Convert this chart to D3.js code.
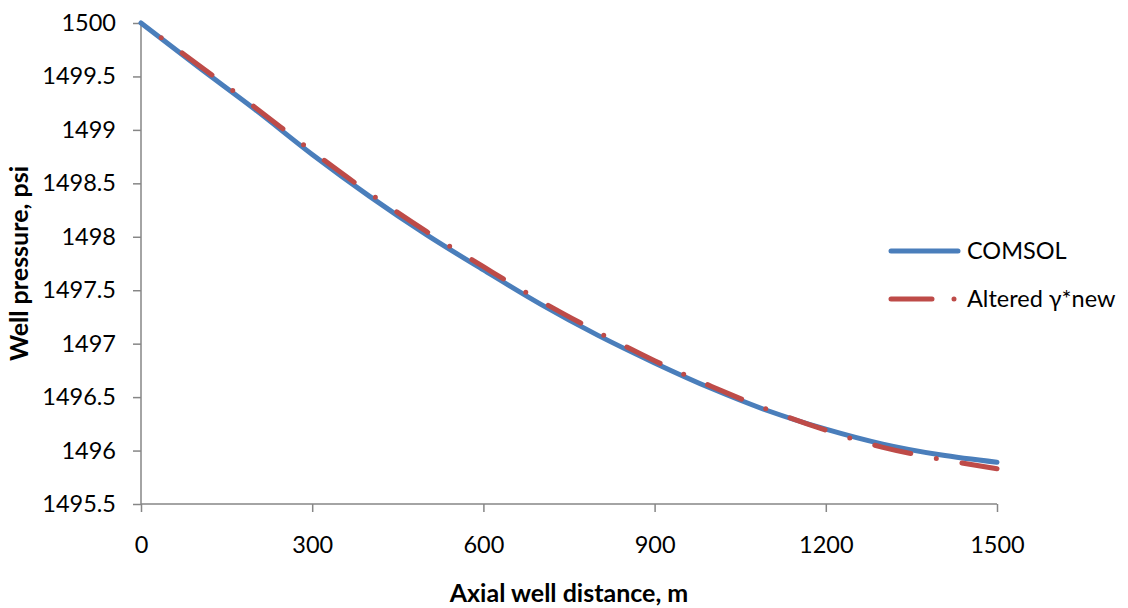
<!DOCTYPE html>
<html>
<head>
<meta charset="utf-8">
<script src="https://cdn.jsdelivr.net/npm/d3@7"></script>
<style>
  html, body { margin: 0; padding: 0; background: #fff; }
  svg { display: block; font-family: Lato, "Open Sans", sans-serif; }
</style>
</head>
<body>
<svg id="chart" width="1128" height="608"></svg>
<script>
// ---- data ----
const distances = [0, 100, 200, 300, 400, 500, 600, 700, 800, 900, 1000, 1100, 1200, 1300, 1400, 1500];
const comsol    = [1500.00, 1499.59, 1499.19, 1498.77, 1498.38, 1498.02, 1497.69, 1497.37, 1497.08, 1496.82, 1496.58, 1496.37, 1496.20, 1496.06, 1495.96, 1495.89];
const altered   = [1500.00, 1499.61, 1499.21, 1498.80, 1498.41, 1498.05, 1497.72, 1497.40, 1497.11, 1496.84, 1496.60, 1496.38, 1496.19, 1496.03, 1495.92, 1495.83];
const xTicks = [0, 300, 600, 900, 1200, 1500];
const yTicks = [1495.5, 1496, 1496.5, 1497, 1497.5, 1498, 1498.5, 1499, 1499.5, 1500];
const seriesNames = ["COMSOL", "Altered \u03b3*new"];

// ---- layout ----
const svg = d3.select("#chart");
const pL = 141, pR = 997, pT = 23, pB = 504;
const x = d3.scaleLinear().domain([0, 1500]).range([pL, pR]);
const y = d3.scaleLinear().domain([1495.5, 1500]).range([pB, pT]);
const axisColor = "#868686";
const blue = "#4A7EBB", red = "#BE4B48";
const fontSize = 23.5;
const titleSize = 25;

// axes
const yAxis = svg.append("g").attr("transform", `translate(${pL},0)`)
  .call(d3.axisLeft(y).tickValues(yTicks).tickSize(8).tickPadding(17)
        .tickFormat(d => String(d)));
const xAxis = svg.append("g").attr("transform", `translate(0,${pB})`)
  .call(d3.axisBottom(x).tickValues(xTicks).tickSize(8).tickPadding(24)
        .tickFormat(d => String(d)));
[yAxis, xAxis].forEach(g => {
  g.select(".domain").attr("stroke", axisColor).attr("stroke-width", 1.5);
  g.selectAll(".tick line").attr("stroke", axisColor).attr("stroke-width", 1.5);
  g.selectAll(".tick text").attr("fill", "#000").style("font-size", fontSize + "px")
    .style("font-family", "Lato, 'Open Sans', sans-serif");
});
yAxis.select(".domain").attr("d", `M0,${pT}V${pB}`);
xAxis.select(".domain").attr("d", `M${pL},0H${pR}`);

// lines
const rows = distances.map((d, i) => ({ d, c: comsol[i], a: altered[i] }));
const lineC = d3.line().x(r => x(r.d)).y(r => y(r.c)).curve(d3.curveMonotoneX);
const lineA = d3.line().x(r => x(r.d)).y(r => y(r.a)).curve(d3.curveMonotoneX);

svg.append("path").datum(rows).attr("d", lineC)
  .attr("fill", "none").attr("stroke", blue).attr("stroke-width", 5)
  .attr("stroke-linecap", "round").attr("stroke-linejoin", "round");
svg.append("path").datum(rows).attr("d", lineA)
  .attr("fill", "none").attr("stroke", red).attr("stroke-width", 5)
  .attr("stroke-linecap", "round").attr("stroke-linejoin", "round")
  .attr("stroke-dasharray", "37,26,0,26").attr("stroke-dashoffset", 38);

// axis titles
svg.append("text").attr("x", (pL + pR) / 2).attr("y", 602)
  .attr("text-anchor", "middle").style("font-size", titleSize + "px").style("font-weight", "bold")
  .text("Axial well distance, m");
svg.append("text").attr("transform", `translate(28,${(pT + pB) / 2}) rotate(-90)`)
  .attr("text-anchor", "middle").style("font-size", titleSize + "px").style("font-weight", "bold")
  .text("Well pressure, psi");

// legend
const leg = svg.append("g");
const legY = [251, 299];
leg.append("line").attr("x1", 891).attr("x2", 958).attr("y1", legY[0]).attr("y2", legY[0])
  .attr("stroke", blue).attr("stroke-width", 5).attr("stroke-linecap", "round");
leg.append("line").attr("x1", 891).attr("x2", 958).attr("y1", legY[1]).attr("y2", legY[1])
  .attr("stroke", red).attr("stroke-width", 5).attr("stroke-linecap", "round")
  .attr("stroke-dasharray", "41,22,0,22");
seriesNames.forEach((n, i) => {
  leg.append("text").attr("x", 967).attr("y", legY[i]).attr("dy", "0.35em")
    .style("font-size", fontSize + "px").text(n);
});
</script>
</body>
</html>
